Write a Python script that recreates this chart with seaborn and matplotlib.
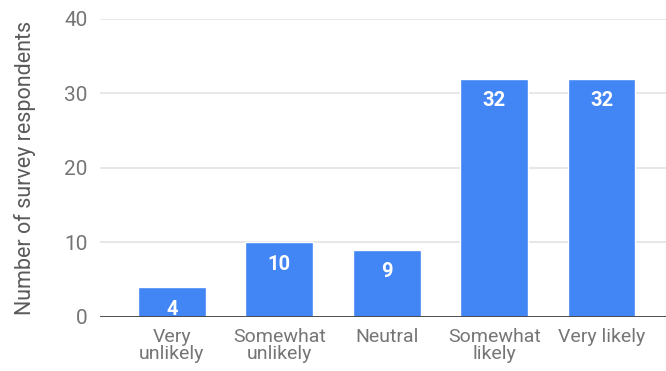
import matplotlib
matplotlib.use("Agg")
import matplotlib.pyplot as plt
import seaborn as sns
import pandas as pd

categories = ["Very\nunlikely", "Somewhat\nunlikely", "Neutral", "Somewhat\nlikely", "Very likely"]
counts = [4, 10, 9, 32, 32]
yticks = [0, 10, 20, 30, 40]

df = pd.DataFrame({"response": categories, "count": counts})

sns.set_theme(style="white")
plt.rcParams["font.family"] = ["Roboto", "DejaVu Sans"]

fig = plt.figure(figsize=(6.66, 3.71), dpi=100)
ax = fig.add_axes([0.150, 0.1456, 0.850, 0.8032])

blue = "#4285F4"
sns.barplot(data=df, x="response", y="count", color=blue, width=0.63,
            saturation=1, ax=ax, zorder=3)

ax.set_ylim(0, 40)
ax.set_xlim(-0.67, 4.6)
ax.set_yticks(yticks)
ax.yaxis.grid(True, color="#e3e3e3", linewidth=1.2, zorder=0)
ax.xaxis.grid(False)
ax.axhline(0, color="#444444", linewidth=1.3, zorder=4)
for s in ax.spines.values():
    s.set_visible(False)

ax.tick_params(axis="both", length=0, colors="#757575")
ax.tick_params(axis="x", labelsize=14, pad=8)
ax.tick_params(axis="y", labelsize=15, pad=9)
for lbl in ax.get_xticklabels():
    lbl.set_linespacing(0.95)

ax.set_xlabel("")
ax.set_ylabel("Number of survey respondents", fontsize=15.5, color="#5a5a5a", labelpad=20)

for patch, val in zip(ax.patches, counts):
    cx = patch.get_x() + patch.get_width() / 2
    ax.annotate(str(val), (cx, val), xytext=(0, -9), textcoords="offset points",
                ha="center", va="top", color="white", fontsize=14.5,
                fontweight="bold", zorder=5)

fig.savefig("out.png", dpi=100)
